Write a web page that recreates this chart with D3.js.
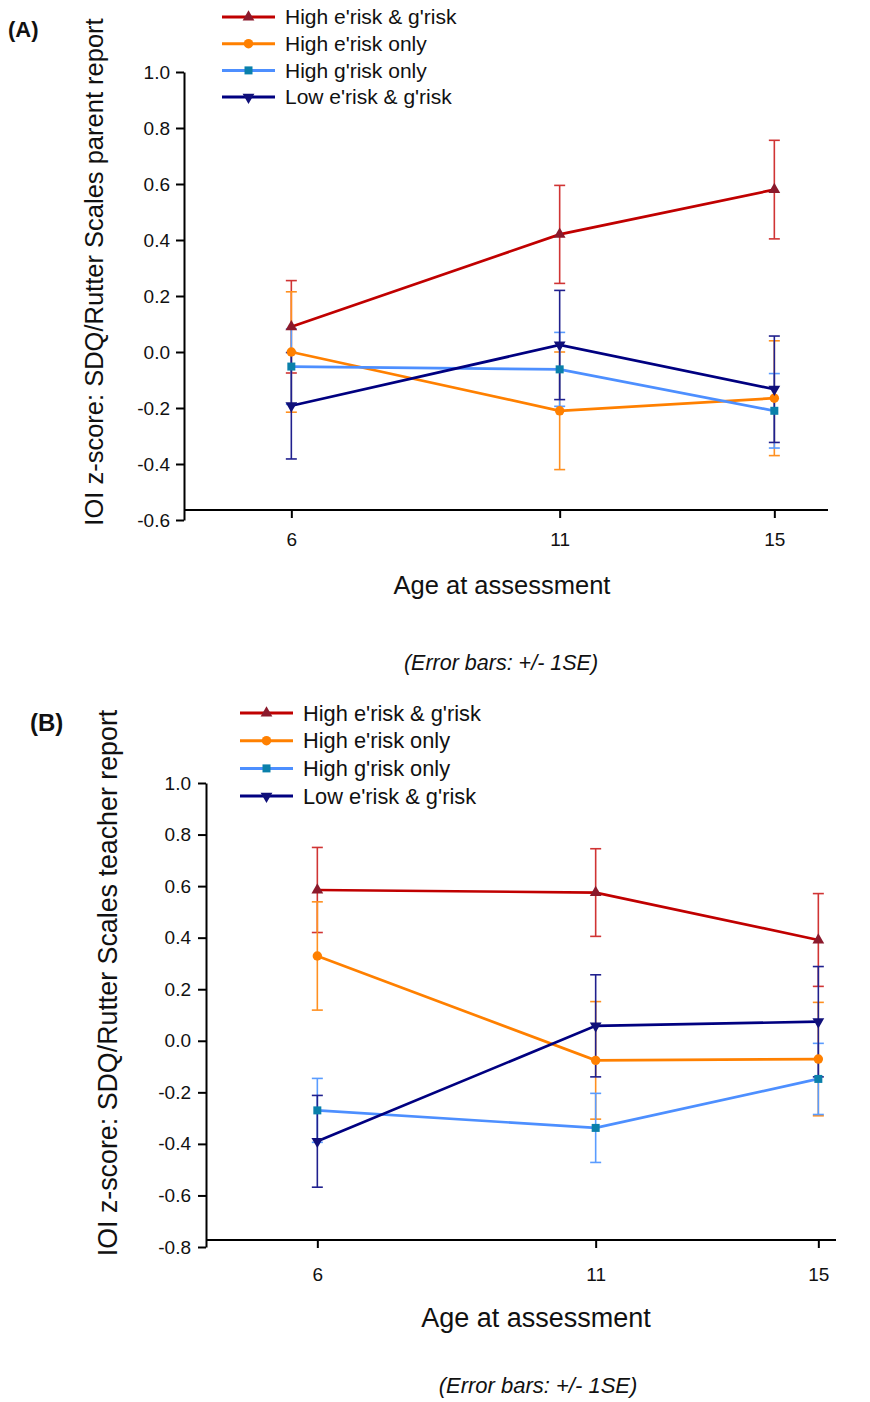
<!DOCTYPE html>
<html>
<head>
<meta charset="utf-8">
<script src="https://cdn.jsdelivr.net/npm/d3@7"></script>
<style>
	body { margin: 0; background: #fff; }
	svg { display: block; font-family: "Liberation Sans", Arial, sans-serif; }
	.axis path, .axis line { stroke: #000; stroke-width: 2; }
	.axis text { fill: #111; }
</style>
</head>
<body>
<div id="chart"></div>
<script>
// data
var ages = [6, 11, 15];
var groupNames = ["High e'risk & g'risk", "High e'risk only", "High g'risk only", "Low e'risk & g'risk"];

// (A) parent report, one row per group
var parentMeans = [
	[0.09, 0.42, 0.58],
	[0.00, -0.21, -0.165],
	[-0.052, -0.062, -0.21],
	[-0.192, 0.025, -0.133]
];
var parentSE = [
	[0.165, 0.175, 0.176],
	[0.215, 0.21, 0.205],
	[0.135, 0.132, 0.133],
	[0.19, 0.195, 0.19]
];
var parentTicks = [-0.6, -0.4, -0.2, 0.0, 0.2, 0.4, 0.6, 0.8, 1.0];

// (B) teacher report
var teacherMeans = [
	[0.585, 0.575, 0.391],
	[0.329, -0.076, -0.071],
	[-0.27, -0.338, -0.148],
	[-0.39, 0.058, 0.074]
];
var teacherSE = [
	[0.165, 0.17, 0.18],
	[0.21, 0.228, 0.22],
	[0.124, 0.134, 0.138],
	[0.178, 0.198, 0.214]
];
var teacherTicks = [-0.8, -0.6, -0.4, -0.2, 0.0, 0.2, 0.4, 0.6, 0.8, 1.0];

// styles per group
var lineColors = ["#c00000", "#ff8000", "#4d8fff", "#000080"];
var barColors = ["#d03434", "#ff9020", "#5a9cff", "#20208e"];
var markerColors = ["#8b1a2c", "#ff8000", "#0a80aa", "#10107a"];
var markerTypes = ["tri", "circle", "square", "triDown"];

var width = 870;
var height = 1402;

var svg = d3.select("#chart")
	.append("svg")
	.attr("width", width)
	.attr("height", height);

function markerPath (type) {
	if (type === "circle") return d3.symbol(d3.symbolCircle, 70)();
	if (type === "square") return d3.symbol(d3.symbolSquare, 64)();
	return d3.symbol(d3.symbolTriangle, 60)();
}

function addMarker (g, type, color, x, y) {
	g.append("path")
		.attr("d", markerPath(type))
		.attr("fill", color)
		.attr("transform", "translate(" + x + "," + y + ")" + (type === "triDown" ? " rotate(180)" : ""));
}

function drawPanel (p) {
	var g = svg.append("g");

	var x = d3.scaleLinear().domain([4, 16]).range([p.xLeft, p.xRight]);
	var y = d3.scaleLinear().domain([p.ticks[0], 1.0]).range([p.yBottom, p.yTop]);

	// y axis
	var yAxis = g.append("g")
		.attr("class", "axis")
		.attr("transform", "translate(" + p.xLeft + ",0)")
		.call(d3.axisLeft(y)
			.tickValues(p.ticks)
			.tickFormat(function (d) { return d.toFixed(1); })
			.tickSize(8)
			.tickSizeOuter(0)
			.tickPadding(p.yTickPad));
	yAxis.selectAll("text").style("font-size", p.tickFont + "px");

	// x axis (sits a little above the lowest y tick)
	var xAxis = g.append("g")
		.attr("class", "axis")
		.attr("transform", "translate(0," + p.xAxisY + ")")
		.call(d3.axisBottom(x)
			.tickValues(ages)
			.tickSize(8)
			.tickSizeOuter(0)
			.tickPadding(p.xTickPad));
	xAxis.select(".domain").attr("d", "M" + p.xLeft + ",0H" + p.xEnd);
	xAxis.selectAll("text").style("font-size", p.tickFont + "px");

	// error bars first
	p.means.forEach(function (row, i) {
		var bars = g.append("g")
			.attr("stroke", barColors[i])
			.attr("stroke-width", 1.6)
			.attr("fill", "none");
		row.forEach(function (m, j) {
			var se = p.se[i][j];
			var cx = x(ages[j]);
			bars.append("line")
				.attr("x1", cx).attr("x2", cx)
				.attr("y1", y(m + se)).attr("y2", y(m - se));
			[m + se, m - se].forEach(function (v) {
				bars.append("line")
					.attr("x1", cx - 5.5).attr("x2", cx + 5.5)
					.attr("y1", y(v)).attr("y2", y(v));
			});
		});
	});

	// lines
	var line = d3.line()
		.x(function (d, j) { return x(ages[j]); })
		.y(function (d) { return y(d); });

	p.means.forEach(function (row, i) {
		g.append("path")
			.datum(row)
			.attr("d", line)
			.attr("fill", "none")
			.attr("stroke", lineColors[i])
			.attr("stroke-width", 2.7);
	});

	// markers
	p.means.forEach(function (row, i) {
		row.forEach(function (m, j) {
			addMarker(g, markerTypes[i], markerColors[i], x(ages[j]), y(m));
		});
	});

	// legend
	groupNames.forEach(function (name, i) {
		var ly = p.legendY + i * p.legendStep;
		g.append("line")
			.attr("x1", p.legendX).attr("x2", p.legendX + 53)
			.attr("y1", ly).attr("y2", ly)
			.attr("stroke", lineColors[i])
			.attr("stroke-width", 3);
		addMarker(g, markerTypes[i], markerColors[i], p.legendX + 26.5, ly);
		g.append("text")
			.attr("x", p.legendX + 63)
			.attr("y", ly)
			.attr("dy", "0.35em")
			.style("font-size", p.legendFont + "px")
			.attr("fill", "#111")
			.text(name);
	});

	// titles
	g.append("text")
		.attr("transform", "translate(" + p.yTitleX + "," + p.yTitleY + ") rotate(-90)")
		.attr("text-anchor", "middle")
		.style("font-size", p.titleFont + "px")
		.attr("fill", "#111")
		.text(p.yTitle);

	g.append("text")
		.attr("x", p.xTitleX)
		.attr("y", p.xTitleY)
		.attr("text-anchor", "middle")
		.style("font-size", p.xTitleFont + "px")
		.attr("fill", "#111")
		.text("Age at assessment");

	g.append("text")
		.attr("x", p.noteX)
		.attr("y", p.noteY)
		.attr("text-anchor", "middle")
		.style("font-size", p.noteFont + "px")
		.style("font-style", "italic")
		.attr("fill", "#111")
		.text("(Error bars: +/- 1SE)");

	g.append("text")
		.attr("x", p.labelX)
		.attr("y", p.labelY)
		.style("font-size", p.labelFont + "px")
		.style("font-weight", "bold")
		.attr("fill", "#111")
		.text(p.label);
}

drawPanel({
	label: "(A)", labelX: 8, labelY: 37, labelFont: 22,
	means: parentMeans, se: parentSE, ticks: parentTicks,
	xLeft: 184, xRight: 828, xEnd: 828, xAxisY: 510,
	yTop: 72, yBottom: 520,
	tickFont: 19, yTickPad: 6, xTickPad: 15,
	legendX: 222, legendY: 17, legendStep: 26.7, legendFont: 21,
	yTitle: "IOI z-score: SDQ/Rutter Scales parent report", yTitleX: 103, yTitleY: 272, titleFont: 25.5,
	xTitleX: 502, xTitleY: 594, xTitleFont: 25.5,
	noteX: 501, noteY: 670, noteFont: 21.5
});

drawPanel({
	label: "(B)", labelX: 30, labelY: 731, labelFont: 24,
	means: teacherMeans, se: teacherSE, ticks: teacherTicks,
	xLeft: 206, xRight: 874, xEnd: 836, xAxisY: 1240,
	yTop: 783, yBottom: 1247,
	tickFont: 19, yTickPad: 7, xTickPad: 20,
	legendX: 240, legendY: 713, legendStep: 27.7, legendFont: 21.8,
	yTitle: "IOI z-score: SDQ/Rutter Scales teacher report", yTitleX: 117, yTitleY: 983, titleFont: 26.8,
	xTitleX: 536, xTitleY: 1327, xTitleFont: 27,
	noteX: 538, noteY: 1393, noteFont: 22
});
</script>
</body>
</html>
